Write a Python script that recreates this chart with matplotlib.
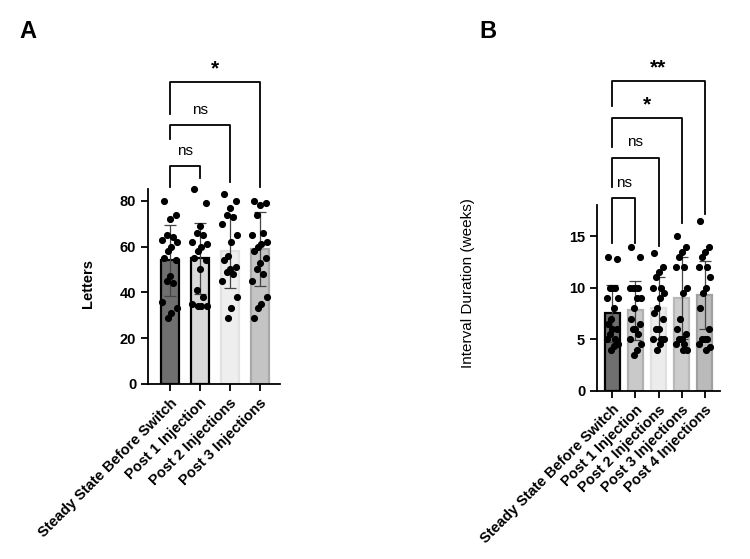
import matplotlib.pyplot as plt

plt.rcParams["font.family"] = ["Liberation Sans", "DejaVu Sans"]

# panel A: visual acuity (letters)
labels_a = ["Steady State Before Switch", "Post 1 Injection", "Post 2 Injections", "Post 3 Injections"]
means_a = [54, 55, 58, 59]
sd_a = [15.5, 15.5, 16, 16]
points_a = [
    [80, 74, 72, 65, 64, 63, 62, 60, 58, 55, 54, 47, 45, 44, 36, 33, 31, 29],
    [85, 79, 69, 66, 65, 62, 61, 60, 58, 55, 54, 50, 41, 38, 35, 34, 34, 34],
    [83, 80, 77, 74, 73, 70, 65, 62, 56, 54, 51, 50, 49, 48, 45, 38, 33, 29],
    [80, 79, 78, 74, 66, 65, 62, 61, 60, 58, 55, 53, 50, 48, 45, 38, 35, 33, 29],
]
colors_a = ["#6f6f6f", "#d9d9d9", "#eeeeee", "#c4c4c4"]
edges_a = ["black", "black", "#e2e2e2", "#a8a8a8"]
# (left, right, height, label, left leg bottom, right leg bottom)
brackets_a = [
    (0, 1, 95, "ns", 86, 90),
    (0, 2, 113, "ns", 107, 88),
    (0, 3, 132, "*", 118, 86),
]

# panel B: interval duration
labels_b = ["Steady State Before Switch", "Post 1 Injection", "Post 2 Injections",
            "Post 3 Injections", "Post 4 Injections"]
means_b = [7.5, 7.8, 8.0, 9.0, 9.3]
sd_b = [2.8, 2.9, 3.0, 4.0, 3.3]
points_b = [
    [13, 12.8, 10, 10, 10, 9, 9, 8, 7, 6.5, 6, 6, 5.5, 5, 5, 4.5, 4.3, 4],
    [14, 13, 10, 10, 10, 10, 9, 9, 8, 7, 6.5, 6, 6, 5.5, 5, 4.5, 4, 3.5],
    [13.4, 12, 11.5, 11, 10, 10, 9.5, 9, 8, 7.5, 7, 6, 6, 5, 5, 5, 4.5, 4],
    [15, 14, 13.5, 13, 12, 12, 10, 9.5, 7, 6, 5.5, 5, 5, 4.5, 4.5, 4, 4],
    [16.5, 14, 13.5, 13, 12, 12, 11, 10, 9.5, 8, 6, 5, 5, 5, 4.5, 4.2, 4],
]
colors_b = ["#6f6f6f", "#c9c9c9", "#ececec", "#cdcdcd", "#bababa"]
edges_b = ["black", "#b0b0b0", "#e0e0e0", "#b8b8b8", "#a0a0a0"]
brackets_b = [
    (0, 1, 18.7, "ns", 14.3, 14.3),
    (0, 2, 22.6, "ns", 19.8, 14.1),
    (0, 3, 26.5, "*", 23.7, 16.3),
    (0, 4, 30.1, "**", 27.6, 17.2),
]

offsets = [-0.2, 0.2, 0.0, -0.1, 0.1, -0.25, 0.25, 0.05, -0.05]


def draw_panel(ax, labels, means, sds, points, colors, edges, brackets, ymax, yticks, ylim, xlim):
    x = range(len(means))
    ax.bar(x, means, width=0.62, color=colors, edgecolor=edges, linewidth=1.6, zorder=1)
    ax.errorbar(x, means, yerr=sds, fmt="none", ecolor="#444444", elinewidth=0.9,
                capsize=4, capthick=0.9, zorder=2)
    for i, pts in enumerate(points):
        xs = [i + offsets[j % len(offsets)] for j in range(len(pts))]
        ax.scatter(xs, pts, s=17, color="black", zorder=3, clip_on=False)
    for l, r, h, txt, lb, rb in brackets:
        ax.plot([l, l, r, r], [lb, h, h, rb], color="black", lw=1.3, clip_on=False)
        fs = 15 if "*" in txt else 11
        fw = "bold" if "*" in txt else "normal"
        dy = 0.01 * (ylim[1] - ylim[0]) if "*" in txt else 0.025 * (ylim[1] - ylim[0])
        ax.text((l + r) / 2, h + dy, txt, ha="center", va="bottom", fontsize=fs, fontweight=fw)
    ax.set_ylim(*ylim)
    ax.set_xlim(*xlim)
    ax.spines["top"].set_visible(False)
    ax.spines["right"].set_visible(False)
    ax.spines["left"].set_bounds(0, ymax)
    ax.spines["left"].set_linewidth(1.3)
    ax.spines["bottom"].set_linewidth(1.3)
    ax.set_yticks(yticks)
    ax.set_xticks(list(x))
    ax.set_xticklabels(labels, rotation=45, ha="right", rotation_mode="anchor",
                       fontsize=10.5, fontweight="bold")
    ax.tick_params(axis="both", width=1.3, length=5)
    for t in ax.get_yticklabels():
        t.set_fontweight("bold")
        t.set_fontsize(10.5)


fig = plt.figure(figsize=(7.5, 5.59), dpi=100)

ax_a = fig.add_axes([0.1973, 0.3131, 0.176, 0.594])
draw_panel(ax_a, labels_a, means_a, sd_a, points_a, colors_a, edges_a, brackets_a,
           85, [0, 20, 40, 60, 80], (0, 145), (-0.73, 3.67))
fig.text(88 / 750, 1 - 283 / 559, "Letters", rotation=90, ha="center", va="center",
         fontsize=10.5, fontweight="bold")

ax_b = fig.add_axes([0.796, 0.301, 0.164, 0.608])
draw_panel(ax_b, labels_b, means_b, sd_b, points_b, colors_b, edges_b, brackets_b,
           18, [0, 5, 10, 15], (0, 33), (-0.67, 4.67))
fig.text(468 / 750, 1 - 283 / 559, "Interval Duration (weeks)", rotation=90,
         ha="center", va="center", fontsize=11)

fig.text(28 / 750, 1 - 32 / 559, "A", fontsize=17, fontweight="bold", ha="center", va="center")
fig.text(488 / 750, 1 - 32 / 559, "B", fontsize=17, fontweight="bold", ha="center", va="center")

fig.savefig("out.png", dpi=100, facecolor="white")
